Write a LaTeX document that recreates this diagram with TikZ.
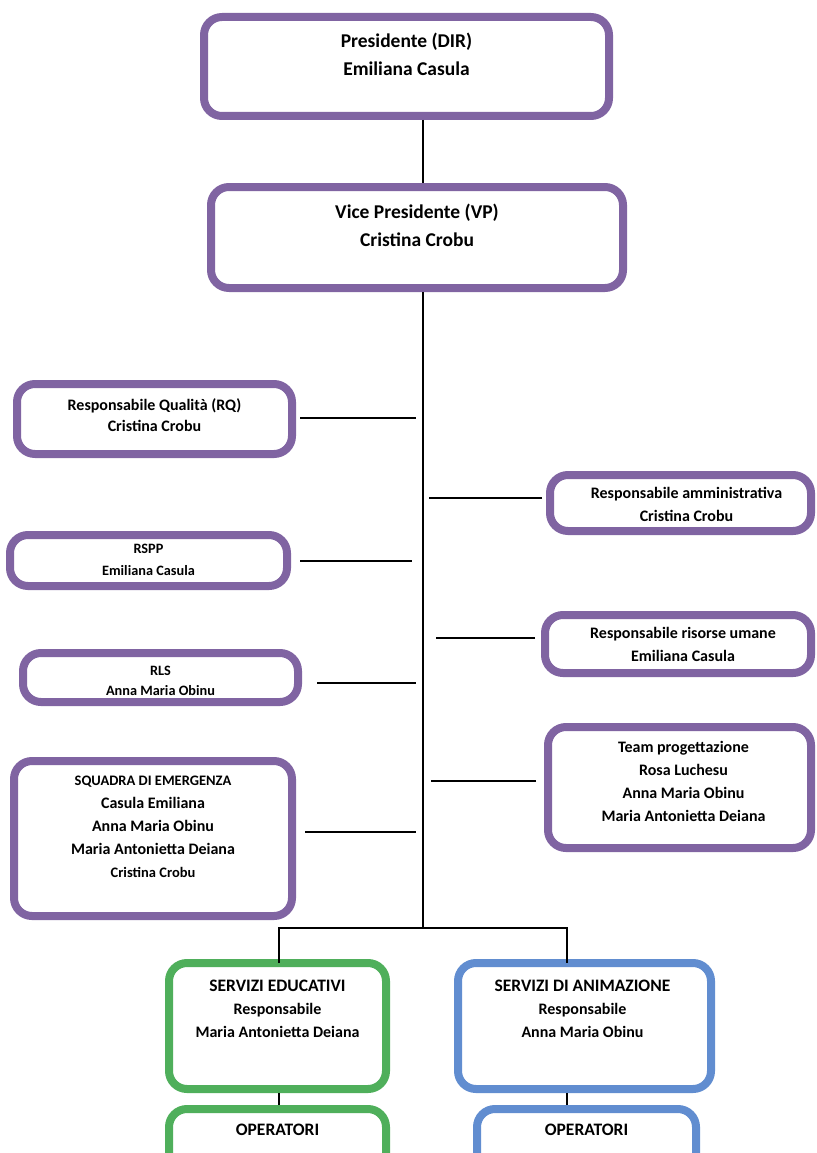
\documentclass[tikz,border=0pt]{standalone}
\usepackage{fontspec}
\setmainfont{Carlito}
\usetikzlibrary{positioning}
\definecolor{boxpurple}{HTML}{8064A2}
\definecolor{boxgreen}{HTML}{4FAF5B}
\definecolor{boxblue}{HTML}{618DD0}
\tikzstyle{link} = [draw=black, line width=1.1pt]
\tikzset{box/.style={draw=boxpurple, line width=8pt, rounded corners=18pt, fill=white, inner sep=0pt},
    greenbox/.style={box, draw=boxgreen},
    bluebox/.style={box, draw=boxblue},
    lbl/.style={align=center, inner sep=0pt, font=\bfseries\fontsize{16}{23}\selectfont},
    biglbl/.style={lbl, font=\bfseries\fontsize{19.5}{28}\selectfont},
    smalllbl/.style={lbl, font=\bfseries\fontsize{14.3}{22}\selectfont}}

\begin{document}
\begin{tikzpicture}[x=1pt, y=-1pt]
    \useasboundingbox (0,0) rectangle (816,1153);
    % Boxes
    \node[box, minimum width=405, minimum height=99] (dir) at (406.5,66.5) {};
    \node[box, minimum width=412, minimum height=101] (vp) at (417,237.5) {};
    \node[box, minimum width=275, minimum height=70] (rq) at (154.5,419) {};
    \node[box, minimum width=261, minimum height=56] (amm) at (680.5,503) {};
    \node[box, minimum width=277, minimum height=51] (rspp) at (148.5,560.5) {};
    \node[box, minimum width=266, minimum height=58] (hr) at (678,644) {};
    \node[box, minimum width=275, minimum height=49] (rls) at (160.5,677.5) {};
    \node[box, minimum width=263, minimum height=121] (team) at (679.5,787.5) {};
    \node[box, minimum width=278, minimum height=155] (squadra) at (153,838.5) {};
    \node[greenbox, minimum width=217, minimum height=126] (edu) at (277.5,1026) {};
    \node[bluebox, minimum width=253, minimum height=126] (anim) at (584.5,1026) {};
    \node[greenbox, minimum width=217, minimum height=80] (opedu) at (277.5,1149) {};
    \node[bluebox, minimum width=219, minimum height=80] (opanim) at (586.5,1149) {};
    %
    % Texts
    \node[biglbl, below=20pt of dir.north] (dirlbl) {Presidente (DIR)\\Emiliana Casula};
    \node[biglbl, below=21pt of vp.north] (vplbl) {Vice Presidente (VP)\\Cristina Crobu};
    \node[lbl, below=18pt of rq.north, font=\bfseries\fontsize{16}{21}\selectfont] (rqlbl) {Responsabile Qualità (RQ)\\Cristina Crobu};
    \node[lbl, below=16pt of amm.north, xshift=6pt] (ammlbl) {Responsabile amministrativa\\Cristina Crobu};
    \node[smalllbl, below=13pt of rspp.north] (rsppl) {RSPP\\Emiliana Casula};
    \node[lbl, below=16pt of hr.north, xshift=5pt] (hrlbl) {Responsabile risorse umane\\Emiliana Casula};
    \node[smalllbl, below=16.5pt of rls.north, font=\bfseries\fontsize{14.3}{20}\selectfont] (rlslbl) {RLS\\Anna Maria Obinu};
    \node[lbl, below=18pt of team.north, xshift=4pt] (teamlbl) {Team progettazione\\Rosa Luchesu\\Anna Maria Obinu\\Maria Antonietta Deiana};
    \node[lbl, below=19pt of squadra.north] (sqlbl) {{\fontsize{14.5}{23}\selectfont SQUADRA DI EMERGENZA}\\Casula Emiliana\\Anna Maria Obinu\\Maria Antonietta Deiana\\{\fontsize{14.5}{23}\selectfont Cristina Crobu}};
    \node[lbl, below=21pt of edu.north] (edulbl) {{\fontsize{17.5}{25}\selectfont SERVIZI EDUCATIVI}\\Responsabile\\Maria Antonietta Deiana};
    \node[lbl, below=21pt of anim.north, xshift=-2pt] (animlbl) {{\fontsize{17.5}{25}\selectfont SERVIZI DI ANIMAZIONE}\\Responsabile\\Anna Maria Obinu};
    \node[lbl, below=19pt of opedu.north, font=\bfseries\fontsize{17.5}{25}\selectfont] (opedulbl) {OPERATORI};
    \node[lbl, below=19pt of opanim.north, font=\bfseries\fontsize{17.5}{25}\selectfont] (opanimlbl) {OPERATORI};
    %
    % Connectors
    \coordinate (spine) at (423,928);
    \coordinate (edutop) at (279,963);
    \coordinate (animtop) at (567,963);
    \coordinate (rqend) at (416,418);
    \coordinate (ammend) at (429,498);
    \coordinate (rsppend) at (412,561);
    \coordinate (hrend) at (436,638);
    \coordinate (rlsend) at (416,683);
    \coordinate (teamend) at (431,781);
    \coordinate (sqend) at (416,832);
    \draw[link] (dir.south -| spine) -- (vp.north -| spine);
    \draw[link] (vp.south -| spine) -- (spine);
    \draw[link] (edutop) |- (spine) -| (animtop);
    \draw[link] (edu.south -| edutop) -- (opedu.north -| edutop);
    \draw[link] (anim.south -| animtop) -- (opanim.north -| animtop);
    \draw[link] ([xshift=4pt]rq.east |- rqend) -- (rqend);
    \draw[link] ([xshift=-4pt]amm.west |- ammend) -- (ammend);
    \draw[link] ([xshift=9pt]rspp.east |- rsppend) -- (rsppend);
    \draw[link] ([xshift=-6pt]hr.west |- hrend) -- (hrend);
    \draw[link] ([xshift=15pt]rls.east |- rlsend) -- (rlsend);
    \draw[link] ([xshift=-8pt]team.west |- teamend) -- (teamend);
    \draw[link] ([xshift=9pt]squadra.east |- sqend) -- (sqend);
\end{tikzpicture}
\end{document}
